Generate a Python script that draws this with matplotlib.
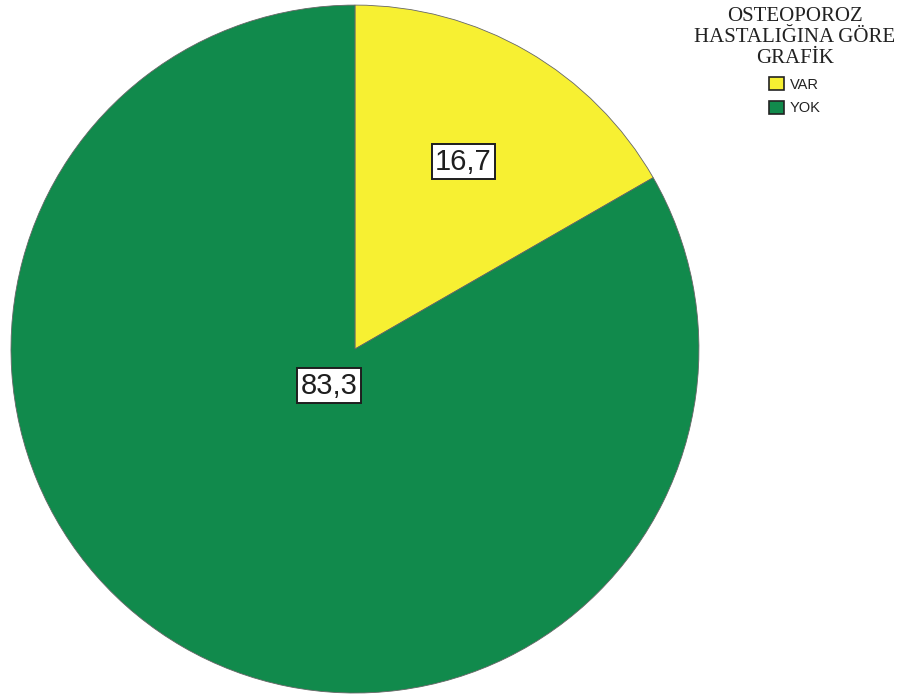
import numpy as np
import matplotlib.pyplot as plt
from matplotlib.patches import Patch

labels = ['VAR', 'YOK']
values = [16.7, 83.3]
colors = ['#f7f032', '#118a4c']
# how far from the centre each value box sits (in radius units)
label_radius = [0.63, 0.13]
label_angle_shift = [0, -5]

fig = plt.figure(figsize=(9, 6.97), dpi=100)
ax = fig.add_axes([0.0122, 0.0057, 0.7644, 0.987])

wedges, _ = ax.pie(values, colors=colors, startangle=90, counterclock=False,
                   wedgeprops=dict(edgecolor='#666666', linewidth=0.6))
ax.set_xlim(-1, 1)
ax.set_ylim(-1, 1)
ax.set_aspect('equal')

for w, v, r, s in zip(wedges, values, label_radius, label_angle_shift):
    ang = np.deg2rad((w.theta1 + w.theta2) / 2 + s)
    ax.text(r * np.cos(ang), r * np.sin(ang), f'{v:.1f}'.replace('.', ','),
            ha='center', va='center', fontsize=21, family='Liberation Sans',
            color='#1e1e1e',
            bbox=dict(facecolor='white', edgecolor='#1e1e1e', linewidth=1.4,
                      boxstyle='square,pad=0.12'))

handles = [Patch(facecolor=c, edgecolor='#222222', linewidth=1.2) for c in colors]
leg = fig.legend(handles, labels, loc='upper center', bbox_to_anchor=(795 / 900, 1.0),
                 frameon=False, title='OSTEOPOROZ\nHASTALIĞINA GÖRE\nGRAFİK',
                 handlelength=1.0, handleheight=1.0, handletextpad=0.4,
                 labelspacing=0.6, borderaxespad=0.1,
                 prop=dict(family='Liberation Sans', size=10.5))
leg.get_title().set_fontproperties(dict(family='Liberation Serif', size=15))
leg.get_title().set_multialignment('center')
leg.get_title().set_linespacing(1.15)
leg.get_title().set_color('#222222')
for t in leg.get_texts():
    t.set_color('#222222')

fig.savefig('out.png', dpi=100)
